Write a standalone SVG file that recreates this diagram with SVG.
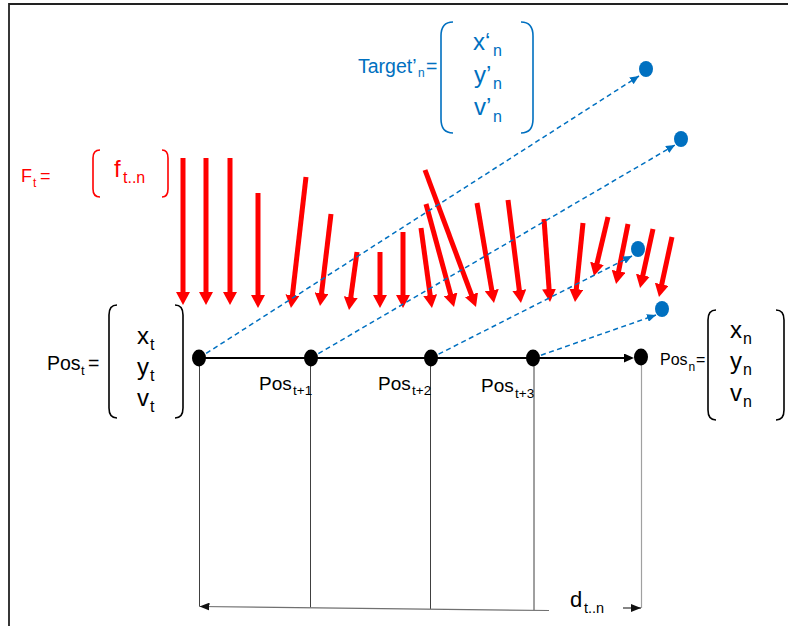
<svg xmlns="http://www.w3.org/2000/svg" width="788" height="626" viewBox="0 0 788 626">
<style>
text{font-family:"Liberation Sans",Arial,sans-serif}
.red{fill:#ff0000}
.blue{fill:#0070c0}
.blk{fill:#000}
.force{stroke:#ff0000;stroke-width:5;fill:none;marker-end:url(#ra)}
.traj{stroke:#0070c0;stroke-width:1.5;stroke-dasharray:5 3.5;fill:none;marker-end:url(#ba)}
.vert{stroke:#404040;stroke-width:1;fill:none}
.brk{fill:none;stroke-width:1.6}
</style>
<defs>
<marker id="ra" markerUnits="userSpaceOnUse" viewBox="0 0 14 14" markerWidth="14" markerHeight="14" refX="3" refY="7" orient="auto"><path d="M0,0 L13,7 L0,14 z" fill="#ff0000"/></marker>
<marker id="ba" markerUnits="userSpaceOnUse" viewBox="0 0 9 8" markerWidth="9" markerHeight="8" refX="9" refY="4" orient="auto"><path d="M0,0 L9,4 L0,8 z" fill="#0070c0"/></marker>
<marker id="ka" markerUnits="userSpaceOnUse" viewBox="0 0 10 9" markerWidth="10" markerHeight="9" refX="8" refY="4.5" orient="auto"><path d="M0,0 L10,4.5 L0,9 z" fill="#000"/></marker>
<marker id="ka2" markerUnits="userSpaceOnUse" viewBox="0 0 10 8" markerWidth="10" markerHeight="8" refX="10" refY="4" orient="auto-start-reverse"><path d="M0,0 L10,4 L0,8 z" fill="#111"/></marker>
</defs>

<g id="frame">
<path d="M9,626 L9,4 L788,4" fill="none" stroke="#222" stroke-width="1.8"/>
</g>

<g id="force-label">
<text class="red" font-size="18"><tspan x="21" y="182">F</tspan><tspan x="33" y="187" font-size="12">t</tspan><tspan x="40" y="182">=</tspan></text>
<path class="brk" stroke="#ff0000" d="M100,150 Q93,150 93,158 L93,189 Q93,197 100,197"/>
<path class="brk" stroke="#ff0000" d="M162,150 Q168,150 168,158 L168,189 Q168,197 162,197"/>
<text class="red" font-size="24"><tspan x="114" y="177">f</tspan><tspan x="123" y="183" font-size="16">t..n</tspan></text>
</g>

<g id="target-label">
<text class="blue" font-size="19.5"><tspan x="358" y="73">Target’</tspan><tspan x="418" y="77" font-size="12">n</tspan><tspan x="426" y="73">=</tspan></text>
<path class="brk" stroke="#0070c0" stroke-width="1.8" d="M453,22 Q441,22 441,36 L441,119 Q441,133 453,133"/>
<path class="brk" stroke="#0070c0" stroke-width="1.8" d="M521,22 Q533,22 533,36 L533,119 Q533,133 521,133"/>
<text class="blue" font-size="24"><tspan x="473" y="50">x‘</tspan><tspan x="493" y="56" font-size="16">n</tspan></text>
<text class="blue" font-size="24"><tspan x="474" y="83">y’</tspan><tspan x="493" y="89" font-size="16">n</tspan></text>
<text class="blue" font-size="24"><tspan x="474" y="115">v’</tspan><tspan x="493" y="122" font-size="16">n</tspan></text>
</g>

<g id="forces">
<line class="force" x1="183" y1="158" x2="183" y2="295"/>
<line class="force" x1="206" y1="158" x2="206" y2="295"/>
<line class="force" x1="230" y1="158" x2="230" y2="295"/>
<line class="force" x1="258" y1="193" x2="258" y2="298"/>
<line class="force" x1="306" y1="177" x2="292.1" y2="298.1"/>
<line class="force" x1="331" y1="214" x2="321.2" y2="296.1"/>
<line class="force" x1="357" y1="252" x2="350.4" y2="300.1"/>
<line class="force" x1="380" y1="252" x2="380" y2="298"/>
<line class="force" x1="403" y1="232" x2="403" y2="298"/>
<line class="force" x1="421" y1="228" x2="430.6" y2="298.1"/>
<line class="force" x1="426" y1="204" x2="451.4" y2="297.3"/>
<line class="force" x1="425" y1="170" x2="472.5" y2="297.6"/>
<line class="force" x1="477" y1="203" x2="492.3" y2="293.1"/>
<line class="force" x1="508" y1="200" x2="519.7" y2="293.1"/>
<line class="force" x1="544" y1="219" x2="549.3" y2="292"/>
<line class="force" x1="583" y1="223" x2="576" y2="292.1"/>
<line class="force" x1="608" y1="217" x2="596.3" y2="266.3"/>
<line class="force" x1="628" y1="224" x2="618" y2="274.2"/>
<line class="force" x1="653" y1="229" x2="642.2" y2="278.2"/>
<line class="force" x1="672" y1="237" x2="661.1" y2="287.2"/>
</g>

<g id="connectors">
<line class="vert" x1="199.5" y1="358" x2="199.5" y2="606.5"/>
<line class="vert" x1="310.5" y1="358" x2="310.5" y2="607.5"/>
<line class="vert" x1="430.5" y1="358" x2="430.5" y2="609"/>
<line class="vert" x1="534" y1="358" x2="534" y2="610.3"/>
<line x1="641.5" y1="358" x2="641.5" y2="608" stroke="#a0a0a0" stroke-width="1.2"/>
<line x1="549" y1="610.5" x2="199.5" y2="606.5" stroke="#707070" stroke-width="1.2" marker-end="url(#ka2)"/>
<line x1="623" y1="608" x2="641" y2="608" stroke="#333" stroke-width="1.2" marker-end="url(#ka2)"/>
<line x1="199" y1="358" x2="632" y2="358" stroke="#000" stroke-width="2.2" marker-end="url(#ka)"/>
<line class="traj" x1="199" y1="358" x2="639" y2="76"/>
<line class="traj" x1="311" y1="358" x2="675" y2="145"/>
<line class="traj" x1="431" y1="358" x2="632" y2="256"/>
<line class="traj" x1="533" y1="358" x2="656" y2="315"/>
</g>

<g id="targets">
<ellipse class="blue" cx="646" cy="69" rx="7" ry="8"/>
<ellipse class="blue" cx="681" cy="139" rx="7" ry="8"/>
<ellipse class="blue" cx="638" cy="249" rx="7" ry="8"/>
<ellipse class="blue" cx="662" cy="309" rx="7" ry="8"/>
</g>

<g id="pos-t">
<ellipse class="blk" cx="199" cy="358" rx="7" ry="8.5"/>
<text font-size="19.5"><tspan x="47" y="370">Pos</tspan><tspan x="81" y="375" font-size="13">t</tspan><tspan x="88" y="370">=</tspan></text>
<path class="brk" stroke="#000" d="M117,305 Q109,305 109,315 L109,408 Q109,418 117,418"/>
<path class="brk" stroke="#000" d="M175,305 Q183,305 183,315 L183,408 Q183,418 175,418"/>
<text font-size="24"><tspan x="137" y="344">x</tspan><tspan x="150" y="350" font-size="16">t</tspan></text>
<text font-size="24"><tspan x="137" y="375">y</tspan><tspan x="150" y="381" font-size="16">t</tspan></text>
<text font-size="24"><tspan x="137" y="406">v</tspan><tspan x="150" y="412" font-size="16">t</tspan></text>
</g>

<g id="pos-t1">
<ellipse class="blk" cx="311" cy="358" rx="7" ry="8.5"/>
<text font-size="19"><tspan x="259" y="390">Pos</tspan><tspan x="293" y="395" font-size="13.5">t+1</tspan></text>
</g>

<g id="pos-t2">
<ellipse class="blk" cx="431" cy="358" rx="7" ry="8.5"/>
<text font-size="19"><tspan x="378" y="390">Pos</tspan><tspan x="412" y="395" font-size="13.5">t+2</tspan></text>
</g>

<g id="pos-t3">
<ellipse class="blk" cx="533" cy="358" rx="7" ry="8.5"/>
<text font-size="19"><tspan x="481" y="392">Pos</tspan><tspan x="515" y="398" font-size="13.5">t+3</tspan></text>
</g>

<g id="pos-n">
<ellipse class="blk" cx="641" cy="357" rx="7" ry="8.5"/>
<text font-size="16"><tspan x="660" y="365">Pos</tspan><tspan x="688.5" y="371" font-size="12">n</tspan><tspan x="696" y="365">=</tspan></text>
<path class="brk" stroke="#000" d="M716,310 Q708,310 708,320 L708,410 Q708,420 716,420"/>
<path class="brk" stroke="#000" d="M776,310 Q784,310 784,320 L784,410 Q784,420 776,420"/>
<text font-size="24"><tspan x="730" y="338">x</tspan><tspan x="743" y="344" font-size="16">n</tspan></text>
<text font-size="24"><tspan x="730" y="369">y</tspan><tspan x="743" y="375" font-size="16">n</tspan></text>
<text font-size="24"><tspan x="730" y="401">v</tspan><tspan x="743" y="407" font-size="16">n</tspan></text>
</g>

<g id="distance-label">
<text font-size="22"><tspan x="570" y="607">d</tspan><tspan x="584" y="613" font-size="14.5">t..n</tspan></text>
</g>
</svg>
